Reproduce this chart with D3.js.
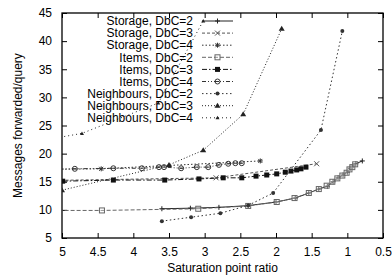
<!DOCTYPE html>
<html lang="en">
<head>
<meta charset="utf-8">
<script src="https://d3js.org/d3.v7.min.js"></script>
<style>
  body { margin: 0; background: #fff; }
  text { font-family: "Liberation Sans", Arial, sans-serif; font-size: 12px; fill: #000; }
</style>
</head>
<body>
<script>
// values: [saturation point ratio, messages forwarded/query]
const storage2 = [[3.6,10.2],[3.2,10.3],[2.8,10.45],[2.39,10.75],[2.0,11.4],[1.73,12.1],[1.54,13.0],[1.40,13.7],[1.28,14.2],[1.20,15.0],[1.13,15.7],[1.06,16.2],[1.0,16.7],[0.96,17.4],[0.92,17.8],[0.88,18.2],[0.79,18.7]];
const storage3 = [[5.3,15.2],[2.84,15.7],[1.43,18.2]];
const storage4 = [[5.3,17.2],[4.45,17.3],[2.22,18.7]];
const items2 = [[5.3,9.9],[4.44,9.9],[3.09,10.2],[2.39,10.7],[1.99,11.4],[1.74,12.1],[1.54,13.0],[1.40,13.7],[1.29,14.3],[1.21,15.0],[1.14,15.6],[1.07,16.1],[1.01,16.6],[0.97,17.2],[0.93,17.6],[0.89,18.1]];
const items3 = [[4.99,15.1],[4.28,15.3],[3.56,15.3],[3.08,15.5],[2.74,15.7],[2.48,15.7],[2.28,16.0],[2.13,16.2],[1.99,16.4],[1.87,16.7],[1.79,16.9],[1.71,17.1],[1.65,17.3],[1.58,17.6]];
const items4 = [[5.2,17.2],[4.82,17.3],[4.28,17.4],[3.88,17.4],[3.64,17.6],[3.57,17.6],[3.33,17.4],[3.11,17.6],[2.95,17.6],[2.80,18.0],[2.67,18.2],[2.57,18.3],[2.48,18.3]];
const neigh2 = [[3.6,8.0],[3.19,8.7],[2.78,9.4],[2.39,10.8],[2.04,13.0],[1.37,24.2],[1.07,41.8]];
const neigh3 = [[5.0,13.5],[3.5,18.0],[3.02,20.6],[2.46,27.0],[1.92,42.2]];
const neigh4 = [[5.3,22.3],[4.72,23.6],[3.65,29.0],[3.02,43.6]];

const seriesNames = ["Storage, DbC=2","Storage, DbC=3","Storage, DbC=4","Items, DbC=2","Items, DbC=3","Items, DbC=4","Neighbours, DbC=2","Neighbours, DbC=3","Neighbours, DbC=4"];
const seriesData = [storage2, storage3, storage4, items2, items3, items4, neigh2, neigh3, neigh4];

const xTicks = [5, 4.5, 4, 3.5, 3, 2.5, 2, 1.5, 1, 0.5];
const yTicks = [5, 10, 15, 20, 25, 30, 35, 40, 45];

// look of each series (gnuplot-like dash types and point types)
const styles = [
  {dash: null,        color: "#222", marker: "plus"},
  {dash: "3,2",       color: "#555", marker: "cross"},
  {dash: "1.5,2",     color: "#333", marker: "star"},
  {dash: "4,2",       color: "#666", marker: "square"},
  {dash: "5,2,1.5,2", color: "#111", marker: "fsquare"},
  {dash: "4,2,1,2,1,2", color: "#333", marker: "circle"},
  {dash: "1.5,2.5",   color: "#333", marker: "fcircle"},
  {dash: "1,2",       color: "#222", marker: "ftri"},
  {dash: "1,3",       color: "#222", marker: "stri"}
];

const W = 392, H = 278;
const margin = {top: 13, right: 9, bottom: 40, left: 62};
const width = W - margin.left - margin.right;
const height = H - margin.top - margin.bottom;

const svg = d3.select("body").append("svg")
    .attr("width", W)
    .attr("height", H);

const g = svg.append("g")
    .attr("transform", "translate(" + margin.left + "," + margin.top + ")");

const x = d3.scaleLinear().domain([5, 0.5]).range([0, width]);
const y = d3.scaleLinear().domain([5, 45]).range([height, 0]);

// axes: inward ticks, mirrored on top and right
g.append("g")
    .attr("transform", "translate(0," + height + ")")
    .call(d3.axisBottom(x).tickValues(xTicks).tickFormat(d3.format("")).tickSize(-5).tickPadding(9));
g.append("g")
    .call(d3.axisTop(x).tickValues(xTicks).tickFormat("").tickSize(-5));
g.append("g")
    .call(d3.axisLeft(y).tickValues(yTicks).tickSize(-5).tickPadding(10));
g.append("g")
    .attr("transform", "translate(" + width + ",0)")
    .call(d3.axisRight(y).tickValues(yTicks).tickFormat("").tickSize(-5));

g.selectAll(".domain").remove();
g.selectAll(".tick line").attr("stroke", "#000").attr("stroke-width", 1);
g.selectAll(".tick text").style("font-size", "12px").attr("fill", "#000");

g.append("rect")
    .attr("width", width)
    .attr("height", height)
    .attr("fill", "none")
    .attr("stroke", "#000")
    .attr("stroke-width", 1.3);

// axis titles
svg.append("text")
    .attr("x", margin.left + width / 2)
    .attr("y", 272)
    .attr("text-anchor", "middle")
    .text("Saturation point ratio");

svg.append("text")
    .attr("transform", "translate(22," + (margin.top + height / 2) + ") rotate(-90)")
    .attr("text-anchor", "middle")
    .text("Messages forwarded/query");

// clip for the data
g.append("clipPath").attr("id", "plotclip")
  .append("rect").attr("width", width).attr("height", height);

const plot = g.append("g").attr("clip-path", "url(#plotclip)");

function drawMarker(sel, type, cx, cy, color) {
  const s = 2.5;
  if (type === "plus") {
    sel.append("path").attr("d", `M${cx-s},${cy}H${cx+s}M${cx},${cy-s}V${cy+s}`).attr("stroke", color).attr("stroke-width", 1);
  } else if (type === "cross") {
    sel.append("path").attr("d", `M${cx-s},${cy-s}L${cx+s},${cy+s}M${cx-s},${cy+s}L${cx+s},${cy-s}`).attr("stroke", color).attr("stroke-width", 1);
  } else if (type === "star") {
    sel.append("path").attr("d", `M${cx-s},${cy}H${cx+s}M${cx},${cy-s}V${cy+s}M${cx-2},${cy-2}L${cx+2},${cy+2}M${cx-2},${cy+2}L${cx+2},${cy-2}`).attr("stroke", color).attr("stroke-width", 1);
  } else if (type === "square") {
    sel.append("rect").attr("x", cx-2.5).attr("y", cy-2.5).attr("width", 5).attr("height", 5).attr("fill", "#fff").attr("fill-opacity", 0.3).attr("stroke", color).attr("stroke-width", 1);
  } else if (type === "fsquare") {
    sel.append("rect").attr("x", cx-2.5).attr("y", cy-2.5).attr("width", 5).attr("height", 5).attr("fill", color);
  } else if (type === "circle") {
    sel.append("circle").attr("cx", cx).attr("cy", cy).attr("r", 2.5).attr("fill", "none").attr("stroke", color).attr("stroke-width", 1);
    sel.append("path").attr("d", `M${cx-1.5},${cy}H${cx+1.5}`).attr("stroke", color).attr("stroke-width", 1);
  } else if (type === "fcircle") {
    sel.append("circle").attr("cx", cx).attr("cy", cy).attr("r", 2).attr("fill", color);
  } else if (type === "ftri") {
    sel.append("path").attr("d", `M${cx},${cy-3}L${cx+3},${cy+2}L${cx-3},${cy+2}Z`).attr("fill", color);
  } else if (type === "stri") {
    sel.append("path").attr("d", `M${cx},${cy-2}L${cx+2},${cy+1.5}L${cx-2},${cy+1.5}Z`).attr("fill", color);
  }
}

const line = d3.line()
    .x(function(d) { return x(d[0]); })
    .y(function(d) { return y(d[1]); });

seriesData.forEach(function(data, i) {
  const st = styles[i];
  plot.append("path")
      .datum(data)
      .attr("d", line)
      .attr("fill", "none")
      .attr("stroke", st.color)
      .attr("stroke-width", 1)
      .attr("stroke-dasharray", st.dash);
  const mk = plot.append("g");
  data.forEach(function(d) {
    drawMarker(mk, st.marker, x(d[0]), y(d[1]), st.color);
  });
});

// legend (top left, text right-aligned, sample line to the right)
const legend = svg.append("g");
seriesNames.forEach(function(name, i) {
  const st = styles[i];
  const ly = 21 + i * 12.1;
  legend.append("text")
      .attr("x", 193)
      .attr("y", ly)
      .attr("dy", "0.35em")
      .attr("text-anchor", "end")
      .text(name);
  legend.append("path")
      .attr("d", "M202," + ly + "H233")
      .attr("stroke", st.color)
      .attr("stroke-width", 1)
      .attr("stroke-dasharray", st.dash);
  drawMarker(legend, st.marker, 217.5, ly, st.color);
});
</script>
</body>
</html>
